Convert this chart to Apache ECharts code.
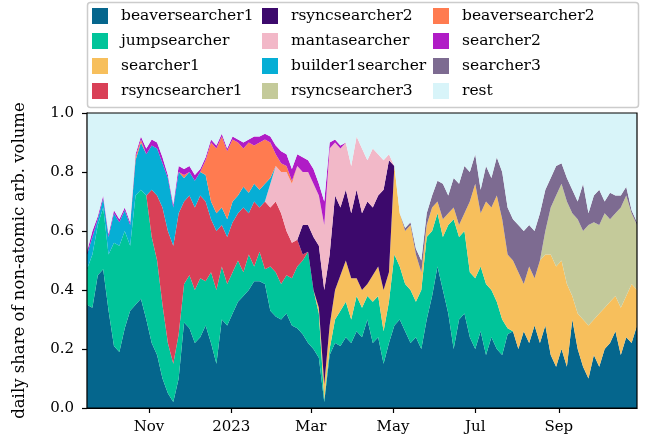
<!DOCTYPE html>
<html>
<head>
<meta charset="utf-8">
<script src="https://cdn.jsdelivr.net/npm/echarts@6/dist/echarts.min.js"></script>
<style>
  html, body { margin: 0; padding: 0; background: #fff; }
  #chart { width: 646px; height: 446px; }
</style>
</head>
<body>
<div id="chart"></div>
<script>
// daily shares, read every 4th day from 2022-09-16 (103 samples)
const startDay = [2022, 8, 16];
const stepDays = 4;

const beaversearcher1 = [
  .35,.34,.45,.47,.33,.21,.19,.27,.33,.35,
  .37,.30,.22,.18,.10,.05,.02,.10,.29,.27,
  .22,.24,.28,.22,.15,.30,.28,.32,.36,.38,
  .40,.43,.43,.42,.33,.31,.30,.32,.28,.27,
  .25,.22,.20,.17,.02,.18,.22,.21,.24,.22,
  .26,.24,.30,.22,.24,.15,.22,.28,.30,.26,
  .22,.24,.20,.30,.38,.48,.40,.32,.20,.30,
  .32,.24,.20,.26,.18,.24,.20,.18,.25,.26,
  .20,.26,.22,.28,.22,.28,.18,.14,.20,.14,
  .30,.20,.14,.10,.18,.14,.20,.22,.26,.18,
  .24,.22,.28];
const jumpsearcher = [
  .12,.18,.17,.21,.19,.35,.36,.33,.22,.37,
  .37,.42,.36,.32,.25,.17,.13,.15,.13,.18,
  .18,.20,.15,.24,.25,.18,.14,.14,.14,.08,
  .12,.05,.10,.05,.15,.15,.12,.13,.16,.21,
  .25,.31,.20,.15,.01,.02,.08,.12,.12,.08,
  .12,.10,.08,.14,.14,.11,.14,.24,.18,.16,
  .18,.12,.20,.28,.22,.18,.18,.30,.44,.28,
  .28,.22,.24,.22,.24,.16,.16,.12,.02,0,
  0,0,0,0,0,0,0,0,0,0,
  0,0,0,0,0,0,0,0,0,0,
  0,0,0];
const searcher1 = [
  0,0,0,0,0,0,0,0,0,0,
  0,0,0,0,0,0,0,0,0,0,
  0,0,0,0,0,0,0,0,0,0,
  0,0,0,0,0,0,0,0,0,0,
  0,0,0,.02,.05,.08,.10,.12,.14,.14,
  .06,.06,.04,.09,.10,.14,.10,.30,.18,.18,
  .22,.16,.06,.04,.08,.04,.06,.04,.04,.04,
  .06,.24,.32,.18,.28,.28,.36,.34,.25,.24,
  .26,.16,.26,.16,.28,.24,.34,.34,.30,.28,
  .08,.12,.16,.18,.12,.18,.14,.14,.12,.16,
  .14,.20,.12];
const rsyncsearcher1 = [
  0,0,0,0,0,0,0,0,0,0,
  0,0,.16,.22,.33,.38,.40,.41,.28,.27,
  .28,.28,.27,.18,.20,.14,.16,.17,.16,.22,
  .14,.22,.15,.23,.20,.24,.24,.15,.12,.09,
  .02,0,0,0,0,0,0,0,0,0,
  0,0,0,0,0,0,0,0,0,0,
  0,0,0,0,0,0,0,0,0,0,
  0,0,0,0,0,0,0,0,0,0,
  0,0,0,0,0,0,0,0,0,0,
  0,0,0,0,0,0,0,0,0,0,
  0,0,0];
const rsyncsearcher2 = [
  0,0,0,0,0,0,0,0,0,0,
  0,0,0,0,0,0,0,0,0,0,
  0,0,0,0,0,0,0,0,0,0,
  0,0,0,0,0,0,0,0,0,0,
  .10,.09,.18,.21,.32,.24,.32,.23,.24,.22,
  .30,.26,.28,.23,.24,.34,.38,0,0,0,
  0,0,0,0,0,0,0,0,0,0,
  0,0,0,0,0,0,0,0,0,0,
  0,0,0,0,0,0,0,0,0,0,
  0,0,0,0,0,0,0,0,0,0,
  0,0,0];
const mantasearcher = [
  0,0,0,0,0,0,0,0,0,0,
  0,0,0,0,0,0,0,0,0,0,
  0,0,0,0,0,0,0,0,0,0,
  0,0,0,0,.08,.12,.14,.20,.20,.25,
  .18,.18,.18,.17,.22,.36,.18,.20,.16,.16,
  .18,.22,.14,.20,.14,.10,.02,0,0,0,
  0,0,0,0,0,0,0,0,0,0,
  0,0,0,0,0,0,0,0,0,0,
  0,0,0,0,0,0,0,0,0,0,
  0,0,0,0,0,0,0,0,0,0,
  0,0,0];
const builder1searcher = [
  .05,.06,.02,.03,.06,.10,.08,.07,.07,.12,
  .16,.14,.15,.16,.15,.18,.13,.14,.08,.08,
  .09,.08,.09,.06,.06,.06,.06,.07,.06,.07,
  .07,.06,.06,.06,.02,0,0,0,0,0,
  0,0,0,0,0,0,0,0,0,0,
  0,0,0,0,0,0,0,0,0,0,
  0,0,0,0,0,0,0,0,0,0,
  0,0,0,0,0,0,0,0,0,0,
  0,0,0,0,0,0,0,0,0,0,
  0,0,0,0,0,0,0,0,0,0,
  0,0,0];
const rsyncsearcher3 = [
  0,0,0,0,0,0,0,0,0,0,
  0,0,0,0,0,0,0,0,0,0,
  0,0,0,0,0,0,0,0,0,0,
  0,0,0,0,0,0,0,0,0,0,
  0,0,0,0,0,0,0,0,0,0,
  0,0,0,0,0,0,0,0,0,0,
  0,0,0,0,0,0,0,0,0,0,
  0,0,0,0,0,0,0,0,0,0,
  0,0,0,0,0,.08,.16,.24,.26,.28,
  .28,.32,.30,.34,.33,.30,.32,.28,.28,.34,
  .34,.24,.22];
const beaversearcher2 = [
  0,0,0,0,0,0,0,0,0,.01,
  .01,0,0,0,0,0,0,0,.01,0,
  0,0,.05,.20,.22,.24,.23,.21,.18,.13,
  .17,.13,.16,.15,.12,.04,.03,.02,.01,0,
  0,0,0,0,0,0,0,0,0,0,
  0,0,0,0,0,0,0,0,0,0,
  0,0,0,0,0,0,0,0,0,0,
  0,0,0,0,0,0,0,0,0,0,
  0,0,0,0,0,0,0,0,0,0,
  0,0,0,0,0,0,0,0,0,0,
  0,0,0];
const searcher2 = [
  .01,.02,.01,.01,.01,.01,.01,.01,.01,.01,
  .01,.02,.02,.02,.02,.01,.01,.02,.02,.02,
  .02,.01,.01,.01,.01,.01,.01,.01,.01,.02,
  .01,.03,.02,.02,.02,.03,.04,.04,.04,.04,
  .05,.04,.05,.04,.08,.02,.01,.01,0,0,
  0,0,0,0,0,0,0,0,0,0,
  0,0,0,0,0,0,0,0,0,0,
  0,0,0,0,0,0,0,0,0,0,
  0,0,0,0,0,0,0,0,0,0,
  0,0,0,0,0,0,0,0,0,0,
  0,0,0];
const searcher3 = [
  0,0,0,0,0,0,0,0,0,0,
  0,0,0,0,0,0,0,0,0,0,
  0,0,0,0,0,0,0,0,0,0,
  0,0,0,0,0,0,0,0,0,0,
  0,0,0,0,0,0,0,0,0,0,
  0,0,0,0,0,0,0,0,0,.01,
  .01,.02,.04,.04,.04,.07,.12,.06,.10,.14,
  .16,.10,.10,.08,.12,.10,.13,.16,.16,.14,
  .16,.18,.14,.16,.16,.14,.10,.10,.07,.08,
  .08,.06,.16,.04,.09,.12,.04,.09,.06,.04,
  .03,.01,.01];

const names = ["beaversearcher1", "jumpsearcher", "searcher1", "rsyncsearcher1",
  "rsyncsearcher2", "mantasearcher", "builder1searcher", "rsyncsearcher3",
  "beaversearcher2", "searcher2", "searcher3", "rest"];
const colors = ["#05668d", "#00c49a", "#f7bf5c", "#d94057", "#3c096c", "#f2b8c8",
  "#06aed5", "#c4ca9a", "#ff7b50", "#b01cc6", "#7d6b91", "#d8f4f9"];
const shares = [beaversearcher1, jumpsearcher, searcher1, rsyncsearcher1, rsyncsearcher2,
  mantasearcher, builder1searcher, rsyncsearcher3, beaversearcher2, searcher2, searcher3];

// rest = whatever share is left over
const rest = beaversearcher1.map((_, i) => {
  let s = 0;
  shares.forEach(a => { s += a[i]; });
  return +(1 - s).toFixed(3);
});
shares.push(rest);

const DAY = 86400000;
const t0 = Date.UTC(startDay[0], startDay[1], startDay[2]);
const dates = beaversearcher1.map((_, i) => t0 + i * stepDays * DAY);

// x tick positions and labels
const tickDates = [Date.UTC(2022, 10, 1), Date.UTC(2023, 0, 1), Date.UTC(2023, 2, 1),
  Date.UTC(2023, 4, 1), Date.UTC(2023, 6, 1), Date.UTC(2023, 8, 1)];
const tickLabels = ["Nov", "2023", "Mar", "May", "Jul", "Sep"];

const font = "DejaVu Serif";
const chart = echarts.init(document.getElementById("chart"), null, { renderer: "canvas" });

// series sit on an evenly spaced category axis (one per sample day);
// a second value axis in timestamps carries the month ticks
const series = names.map((n, si) => ({
  name: n,
  type: "line",
  stack: "total",
  xAxisIndex: 0,
  symbol: "none",
  showSymbol: false,
  lineStyle: { width: 0 },
  areaStyle: { color: colors[si], opacity: 1 },
  itemStyle: { color: colors[si] },
  emphasis: { disabled: true },
  data: shares[si]
}));

function legendCol(left, items) {
  return {
    orient: "vertical",
    left: left,
    top: 8,
    padding: 0,
    icon: "rect",
    itemWidth: 16,
    itemHeight: 16,
    itemGap: 9,
    selectedMode: false,
    data: items,
    textStyle: { fontFamily: font, fontSize: 15.5, color: "#000", padding: [0, 0, 0, 8] }
  };
}

chart.setOption({
  animation: false,
  color: colors,
  grid: { left: 87, right: 9, top: 113, bottom: 38 },
  legend: [
    legendCol(92, names.slice(0, 4)),
    legendCol(262, names.slice(4, 8)),
    legendCol(433, names.slice(8, 12))
  ],
  graphic: [
    {
      type: "rect", z: 100,
      shape: { x: 87.5, y: 2.5, width: 551, height: 105, r: 3 },
      style: { fill: "rgba(0,0,0,0)", stroke: "#cccccc", lineWidth: 1.5 }
    },
    {
      type: "rect", z: 100,
      shape: { x: 87, y: 113, width: 550, height: 295 },
      style: { fill: "rgba(0,0,0,0)", stroke: "#000", lineWidth: 1.2 }
    }
  ],
  xAxis: [
    {
      type: "category",
      data: dates,
      boundaryGap: false,
      axisLine: { show: false },
      axisTick: { show: false },
      axisLabel: { show: false },
      splitLine: { show: false }
    },
    {
      type: "value",
      position: "bottom",
      min: dates[0],
      max: dates[dates.length - 1],
      splitLine: { show: false },
      axisLine: { lineStyle: { color: "#000", width: 1.2 } },
      axisTick: { show: true, length: 5, inside: false, customValues: tickDates, lineStyle: { color: "#000", width: 1.2 } },
      axisLabel: {
        customValues: tickDates,
        margin: 12,
        fontFamily: font, fontSize: 15, color: "#000",
        formatter: v => {
          const i = tickDates.indexOf(v);
          return i >= 0 ? tickLabels[i] : "";
        }
      }
    }
  ],
  yAxis: {
    type: "value",
    min: 0, max: 1, interval: 0.2,
    name: "daily share of non-atomic arb. volume",
    nameLocation: "middle",
    nameGap: 59,
    nameTextStyle: { fontFamily: font, fontSize: 16.5, color: "#000" },
    splitLine: { show: false },
    axisLine: { show: true, lineStyle: { color: "#000", width: 1.2 } },
    axisTick: { show: true, length: 5, lineStyle: { color: "#000", width: 1.2 } },
    axisLabel: {
      margin: 13,
      fontFamily: font, fontSize: 15, color: "#000",
      formatter: v => v.toFixed(1)
    }
  },
  series: series
});
</script>
</body>
</html>
